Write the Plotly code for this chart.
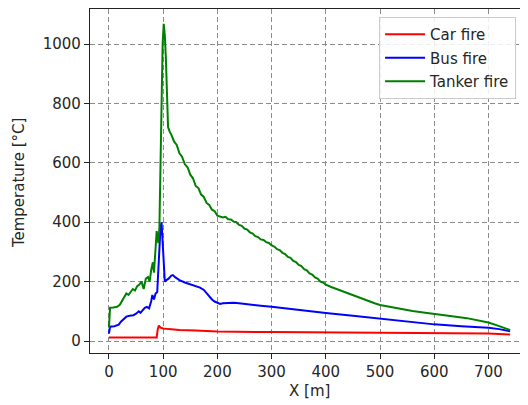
import plotly.graph_objects as go

car_x = [0, 88, 90, 92, 95, 100, 110, 130, 160, 200, 300, 400, 500, 600, 700, 740]
car_y = [12, 12, 40, 52, 45, 42, 40, 37, 35, 32, 30, 29, 28, 27, 25, 22]

bus_x = [0, 2, 10, 18, 22, 27, 32, 38, 45, 50, 55, 58, 62, 66, 70, 74, 78, 80, 83, 86, 89,
         91, 93, 95, 97, 99, 101, 103, 106, 110, 115, 118, 122, 130, 140, 150, 160, 168,
         175, 180, 185, 190, 195, 200, 205, 210, 220, 230, 240, 260, 280, 300, 350, 400,
         450, 500, 550, 600, 650, 700, 720, 740]
bus_y = [25, 48, 50, 55, 65, 75, 82, 85, 87, 92, 100, 95, 105, 112, 115, 110, 135, 155, 140,
         160, 165, 230, 320, 380, 400, 340, 250, 200, 205, 210, 220, 222, 215, 205, 197, 190,
         185, 180, 172, 160, 150, 140, 133, 130, 125, 127, 128, 129, 127, 122, 119, 115, 104,
         94, 85, 76, 66, 56, 50, 45, 40, 33]

tanker_x = [0, 2, 8, 15, 20, 25, 28, 32, 36, 40, 44, 48, 52, 56, 60, 64, 68, 72, 75, 78, 81,
            83, 86, 88, 90, 91, 93, 95, 97, 99, 101, 103, 105, 107, 109,
            112, 115, 120, 125, 130, 135, 140, 145, 150, 155, 160, 165, 170, 175, 180, 185,
            190, 195, 200, 205, 210, 215, 220, 225, 230, 235, 240, 245, 250, 255, 260, 265,
            270, 275, 280, 285, 290, 295, 300, 305, 310, 315, 320, 325, 330, 335, 340, 345,
            350, 355, 360, 365, 370, 375, 380, 385, 390, 395, 400, 410, 420, 430, 440, 450,
            460, 470, 480, 490, 500, 520, 540, 560, 580, 600, 620, 640, 660, 680, 700, 720,
            740]
tanker_y = [45, 112, 113, 115, 122, 140, 150, 160, 155, 165, 175, 170, 185, 190, 200, 175,
            210, 215, 200, 240, 265, 230, 300, 370, 345, 330, 380, 600, 850, 1000, 1068, 1030,
            950, 850, 720,
            705, 695, 672, 660, 632, 620, 595, 585, 560, 548, 522, 515, 493, 485, 465, 458,
            442, 437, 422, 420, 416, 418, 410, 409, 402, 400, 391, 388, 378, 375, 366, 362,
            353, 350, 342, 340, 333, 330, 322, 318, 309, 306, 297, 293, 283, 280, 270, 266,
            256, 252, 242, 238, 228, 224, 214, 210, 200, 197, 190, 182, 175, 168, 160, 154,
            147, 140, 134, 127, 121, 114, 107, 101, 96, 92, 87, 82, 77, 70, 62, 50,
            37]

x_ticks = [0, 100, 200, 300, 400, 500, 600, 700]
y_ticks = [0, 200, 400, 600, 800, 1000]

FONT = "DejaVu Sans"
FS = 15
TXT = "#262626"

fig = go.Figure()
fig.add_trace(go.Scatter(x=car_x, y=car_y, mode="lines", name="Car fire", legendgroup="a",
                         line=dict(color="#ff0000", width=2)))
fig.add_trace(go.Scatter(x=bus_x, y=bus_y, mode="lines", name="Bus fire", legendgroup="b",
                         line=dict(color="#0000ff", width=2)))
fig.add_trace(go.Scatter(x=tanker_x, y=tanker_y, mode="lines", name="Tanker fire",
                         legendgroup="c", line=dict(color="#008000", width=2)))

axis_common = dict(
    showgrid=True, gridcolor="#8c8c8c", griddash="5px,3px", gridwidth=1,
    showline=True, linecolor="#222222", linewidth=1.3, mirror=True,
    ticks="outside", ticklen=5, tickcolor="#222222", tickwidth=1,
    zeroline=False, automargin=False,
    tickfont=dict(family=FONT, size=FS, color=TXT),
)

# the page body has an 8px margin, so the figure is sized to fit the 528x405 window
fig.update_layout(
    width=520, height=397,
    margin=dict(l=82, r=0, t=1, b=52, autoexpand=False),
    paper_bgcolor="white", plot_bgcolor="white",
    font=dict(family=FONT, size=FS, color=TXT),
    showlegend=True,
    legend=dict(x=0.66, y=0.977, xanchor="left", yanchor="top",
                traceorder="grouped", tracegroupgap=1, itemwidth=40,
                bgcolor="rgba(255,255,255,0.85)", bordercolor="#cccccc", borderwidth=1,
                font=dict(family=FONT, size=FS, color=TXT)),
    xaxis=dict(range=[-35, 773], tickvals=x_ticks, **axis_common),
    yaxis=dict(range=[-40.4, 1118], tickvals=y_ticks, **axis_common),
    annotations=[
        dict(text="X [m]", xref="paper", yref="paper", x=0.5, y=-0.110,
             xanchor="center", yanchor="middle", showarrow=False,
             font=dict(family=FONT, size=FS, color=TXT)),
        dict(text="Temperature [°C]", xref="paper", yref="paper", x=-0.162, y=0.494,
             xanchor="center", yanchor="middle", textangle=-90, showarrow=False,
             font=dict(family=FONT, size=FS, color=TXT)),
    ],
)

fig.write_html("out.html")
